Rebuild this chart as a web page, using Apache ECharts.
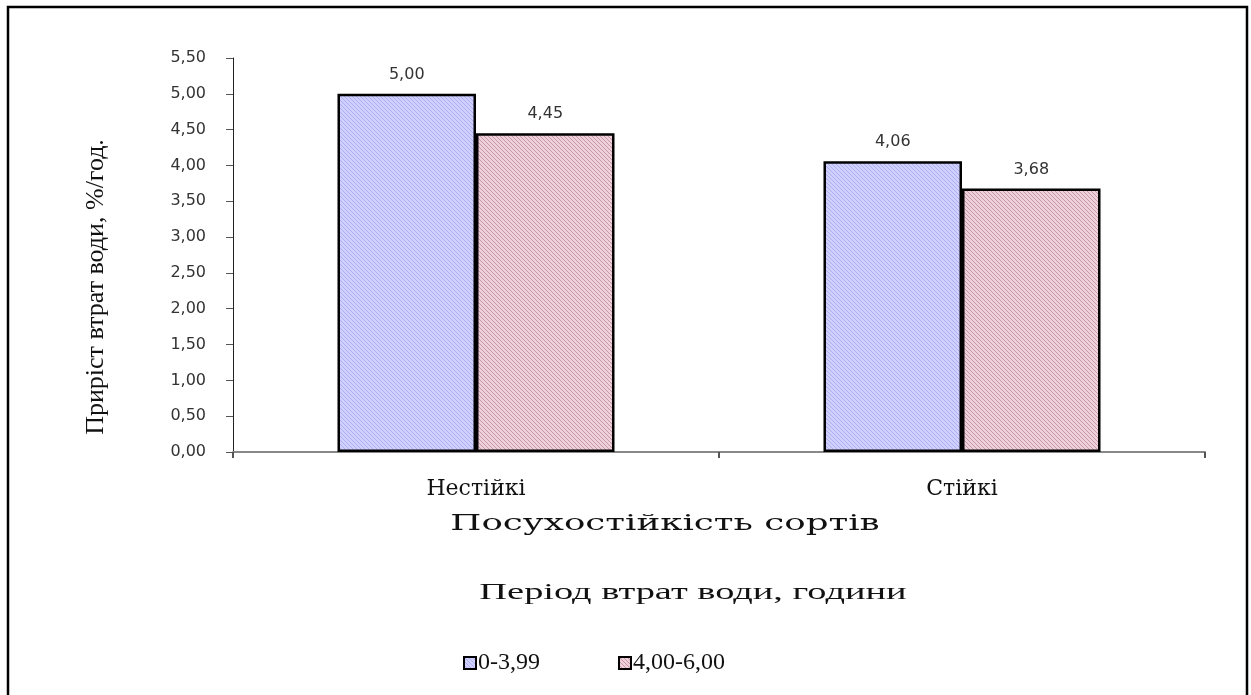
<!DOCTYPE html>
<html>
<head>
<meta charset="utf-8">
<script src="https://cdn.jsdelivr.net/npm/echarts@6/dist/echarts.min.js"></script>
<style>
  html, body { margin: 0; padding: 0; background: #fff; }
  #chart { width: 1251px; height: 695px; }
</style>
</head>
<body>
<div id="chart"></div>
<script>
// дані
const categories = ['Нестійкі', 'Стійкі'];
const seriesNames = ['0-3,99', '4,00-6,00'];
const period1 = [5.00, 4.06];
const period2 = [4.45, 3.68];

const yTitle = 'Приріст втрат води, %/год.';
const xTitle = 'Посухостійкість сортів';
const legendTitle = 'Період втрат води, години';

// штрихування як в Excel
function hatch(bg, fg) {
  const c = document.createElement('canvas');
  c.width = c.height = 4;
  const ctx = c.getContext('2d');
  ctx.fillStyle = bg;
  ctx.fillRect(0, 0, 4, 4);
  ctx.strokeStyle = fg;
  ctx.lineWidth = 1;
  ctx.beginPath();
  ctx.moveTo(0, 0); ctx.lineTo(4, 4);
  ctx.moveTo(-1, 3); ctx.lineTo(1, 5);
  ctx.moveTo(3, -1); ctx.lineTo(5, 1);
  ctx.stroke();
  return { image: c, repeat: 'repeat' };
}

const fmt = v => Number(v).toFixed(2).replace('.', ',');

const chart = echarts.init(document.getElementById('chart'));

const barStyle = fill => ({
  color: fill,
  borderColor: '#000',
  borderWidth: 2.5
});

const label = {
  show: true,
  position: 'top',
  distance: 11,
  formatter: p => fmt(p.value),
  fontFamily: 'DejaVu Sans',
  fontSize: 16,
  fontWeight: 'normal',
  color: '#333'
};

chart.setOption({
  animation: false,
  backgroundColor: '#fff',
  grid: { left: 233, right: 46, top: 58, bottom: 243 },
  xAxis: {
    type: 'category',
    data: categories,
    axisLine: { lineStyle: { color: '#888', width: 2 } },
    axisTick: { show: true, length: 6, lineStyle: { color: '#555', width: 2 } },
    axisLabel: {
      margin: 26,
      fontFamily: 'DejaVu Serif',
      fontSize: 22,
      color: '#111'
    }
  },
  yAxis: {
    type: 'value',
    min: 0,
    max: 5.5,
    interval: 0.5,
    splitLine: { show: false },
    axisLine: { show: true, lineStyle: { color: '#222', width: 1 } },
    axisTick: { show: true, length: 7, lineStyle: { color: '#555' } },
    axisLabel: {
      formatter: fmt,
      margin: 27,
      fontFamily: 'DejaVu Sans',
      fontSize: 16,
      color: '#333'
    }
  },
  legend: {
    left: 458,
    top: 646,
    icon: 'rect',
    itemWidth: 12,
    itemHeight: 12,
    itemGap: 78,
    textStyle: { fontFamily: 'Liberation Serif', fontSize: 24, color: '#111', padding: [0, 0, 0, -3] },
    data: seriesNames
  },
  series: [
    {
      name: seriesNames[0],
      type: 'bar',
      data: period1,
      barGap: '0%',
      barCategoryGap: '43%',
      itemStyle: barStyle(hatch('#d0d0ff', '#aeaef2')),
      label: label
    },
    {
      name: seriesNames[1],
      type: 'bar',
      data: period2,
      itemStyle: barStyle(hatch('#eed0da', '#c898aa')),
      label: label
    }
  ],
  graphic: [
    {
      type: 'rect',
      shape: { x: 8, y: 7, width: 1239, height: 700 },
      style: { fill: 'none', stroke: '#000', lineWidth: 2.5 },
      silent: true
    },
    {
      type: 'text',
      x: 96,
      y: 287,
      rotation: Math.PI / 2,
      style: {
        text: yTitle,
        font: '26px "Liberation Serif"',
        fill: '#111',
        textAlign: 'center',
        textVerticalAlign: 'middle'
      }
    },
    {
      type: 'text',
      x: 665,
      y: 524,
      scaleX: 1.62,
      style: {
        text: xTitle,
        font: '22px "DejaVu Serif"',
        fill: '#111',
        textAlign: 'center',
        textVerticalAlign: 'middle'
      }
    },
    {
      type: 'text',
      x: 693,
      y: 593,
      scaleX: 1.6,
      style: {
        text: legendTitle,
        font: '24px "Liberation Serif"',
        fill: '#111',
        textAlign: 'center',
        textVerticalAlign: 'middle'
      }
    }
  ]
});
</script>
</body>
</html>
